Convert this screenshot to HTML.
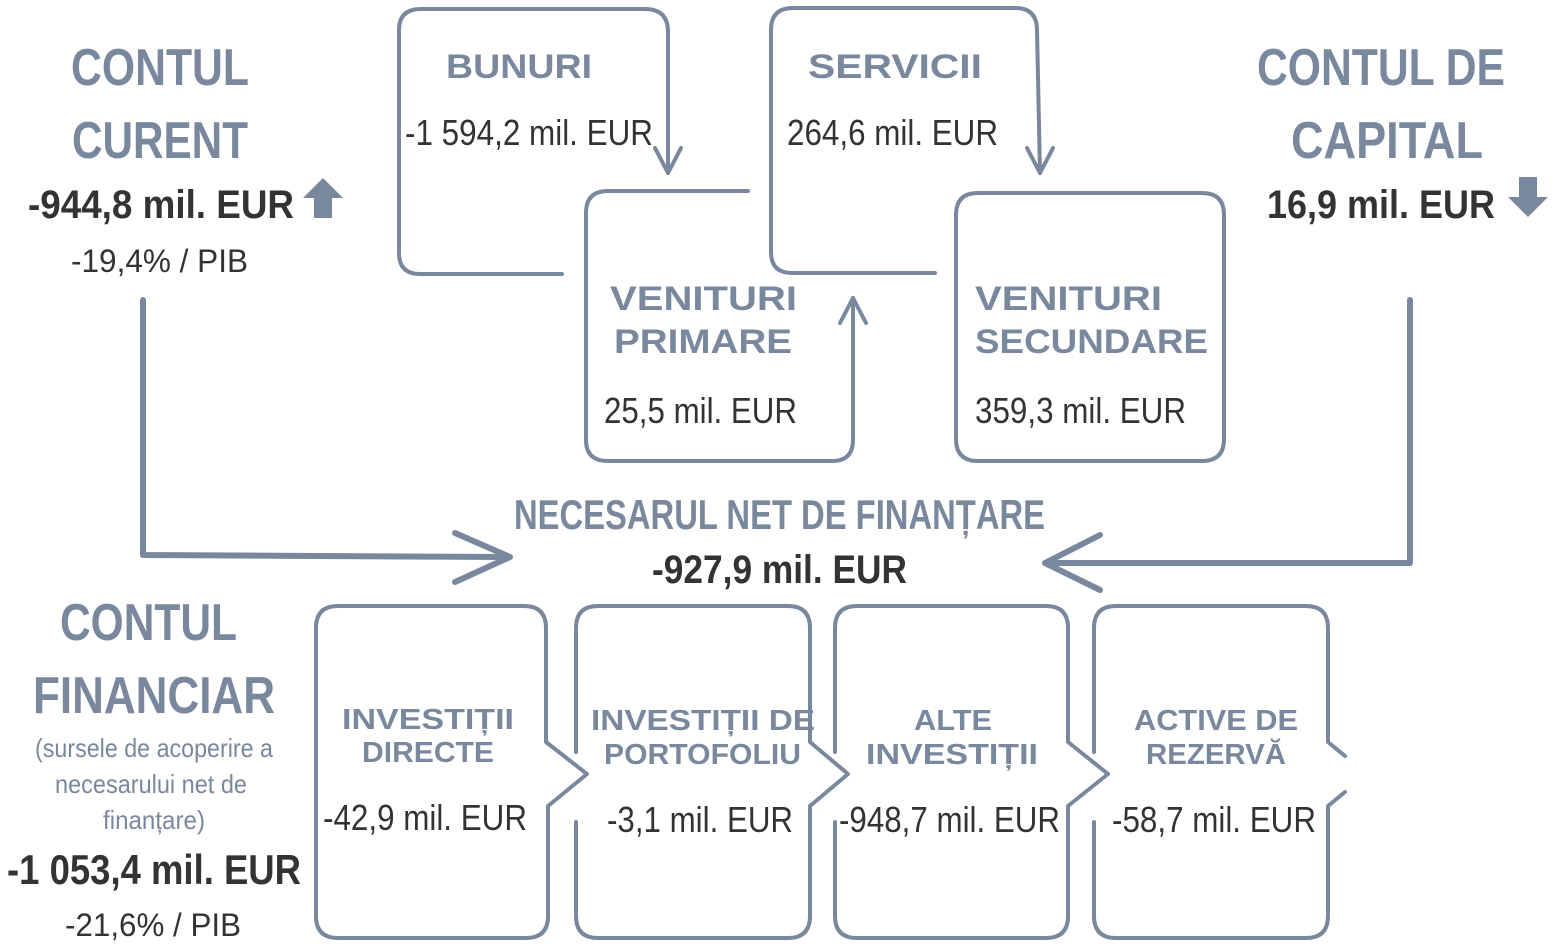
<!DOCTYPE html>
<html><head><meta charset="utf-8"><style>
html,body{margin:0;padding:0;background:#fff;}
svg{display:block;}
text{font-family:"Liberation Sans",sans-serif;}
.h{fill:#7a889e;font-weight:bold;}
.v{fill:#333;}
.b{fill:#333;font-weight:bold;}
.s{fill:#7a889e;}
</style></head><body>
<svg width="1554" height="946" viewBox="0 0 1554 946" xmlns="http://www.w3.org/2000/svg">
<g fill="none" stroke="#7a889e" stroke-width="4" stroke-linecap="round" stroke-linejoin="round">
<path d="M562,274 L420,274 Q399,274 399,253 L399,30 Q399,9 421,9 L645,9 Q668,9 668,32 L668,173"/>
<path d="M655,148 L668,173 L681,148"/>
<path d="M748,191 L608,191 Q586,191 586,213 L586,440 Q586,461 608,461 L832,461 Q853,461 853,440 L853,298"/>
<path d="M840,323 L853,298 L866,323"/>
<path d="M935,273 L792,273 Q771,273 771,252 L771,30 Q771,8 793,8 L1015,8 Q1037,8 1037,30 L1040,173"/>
<path d="M1027,148 L1040,173 L1053,148"/>
<path d="M978,193 L1202,193 Q1224,193 1224,215 L1224,439 Q1224,461 1202,461 L978,461 Q956,461 956,439 L956,215 Q956,193 978,193 Z"/>
<path d="M546,742 L587,774 L548,806 L548,916 Q548,938 526,938 L338,938 Q316,938 316,916 L316,628 Q316,606 338,606 L524,606 Q546,606 546,628 Z"/>
<path d="M576,752 L576,628 Q576,606 598,606 L788,606 Q810,606 810,628 L810,742 L848,774 L810,806 L810,916 Q810,938 788,938 L598,938 Q576,938 576,916 L576,822"/>
<path d="M835,752 L835,628 Q835,606 857,606 L1046,606 Q1068,606 1068,628 L1068,742 L1108,774 L1068,806 L1068,916 Q1068,938 1046,938 L857,938 Q835,938 835,916 L835,822"/>
<path d="M1094,752 L1094,628 Q1094,606 1116,606 L1306,606 Q1328,606 1328,628 L1328,742 L1345,756"/>
<path d="M1345,792 L1328,806 L1328,916 Q1328,938 1306,938 L1116,938 Q1094,938 1094,916 L1094,822"/>
</g>
<g fill="none" stroke="#7a889e" stroke-width="6" stroke-linecap="round" stroke-linejoin="round">
<path d="M143,300 L143,555 L505,557"/>
<path d="M455,533 L510,557 L455,582"/>
<path d="M1410,300 L1410,563 L1050,563"/>
<path d="M1100,535 L1045,563 L1100,590"/>
</g>
<path d="M323,178 L343,198 L332,198 L332,218 L314,218 L314,198 L303,198 Z" fill="#7a889e"/>
<path d="M1528,217 L1508,197 L1519,197 L1519,177 L1537,177 L1537,197 L1548,197 Z" fill="#7a889e"/>

<text class="h" x="71" y="85" font-size="52" textLength="178" lengthAdjust="spacingAndGlyphs">CONTUL</text>
<text class="h" x="72" y="158" font-size="52" textLength="176" lengthAdjust="spacingAndGlyphs">CURENT</text>
<text class="b" x="28" y="218" font-size="40" textLength="266" lengthAdjust="spacingAndGlyphs">-944,8 mil. EUR</text>
<text class="v" x="71" y="272" font-size="32" textLength="177" lengthAdjust="spacingAndGlyphs">-19,4% / PIB</text>
<text class="h" x="1257" y="85" font-size="52" textLength="248" lengthAdjust="spacingAndGlyphs">CONTUL DE</text>
<text class="h" x="1291" y="158" font-size="52" textLength="192" lengthAdjust="spacingAndGlyphs">CAPITAL</text>
<text class="b" x="1267" y="218" font-size="40" textLength="228" lengthAdjust="spacingAndGlyphs">16,9 mil. EUR</text>
<text class="h" x="446" y="78" font-size="34" textLength="146" lengthAdjust="spacingAndGlyphs">BUNURI</text>
<text class="v" x="405" y="145" font-size="36" textLength="248" lengthAdjust="spacingAndGlyphs">-1 594,2 mil. EUR</text>
<text class="h" x="808" y="78" font-size="34" textLength="174" lengthAdjust="spacingAndGlyphs">SERVICII</text>
<text class="v" x="787" y="145" font-size="36" textLength="211" lengthAdjust="spacingAndGlyphs">264,6 mil. EUR</text>
<text class="h" x="610" y="310" font-size="34" textLength="187" lengthAdjust="spacingAndGlyphs">VENITURI</text>
<text class="h" x="614" y="353" font-size="34" textLength="178" lengthAdjust="spacingAndGlyphs">PRIMARE</text>
<text class="v" x="604" y="423" font-size="36" textLength="193" lengthAdjust="spacingAndGlyphs">25,5 mil. EUR</text>
<text class="h" x="975" y="310" font-size="34" textLength="187" lengthAdjust="spacingAndGlyphs">VENITURI</text>
<text class="h" x="975" y="353" font-size="34" textLength="233" lengthAdjust="spacingAndGlyphs">SECUNDARE</text>
<text class="v" x="975" y="423" font-size="36" textLength="211" lengthAdjust="spacingAndGlyphs">359,3 mil. EUR</text>
<text class="h" x="514" y="529" font-size="42" textLength="531" lengthAdjust="spacingAndGlyphs">NECESARUL NET DE FINANȚARE</text>
<text class="b" x="652" y="583" font-size="40" textLength="255" lengthAdjust="spacingAndGlyphs">-927,9 mil. EUR</text>
<text class="h" x="60" y="640" font-size="52" textLength="177" lengthAdjust="spacingAndGlyphs">CONTUL</text>
<text class="h" x="33" y="713" font-size="52" textLength="242" lengthAdjust="spacingAndGlyphs">FINANCIAR</text>
<text class="s" x="35" y="757" font-size="26" textLength="238" lengthAdjust="spacingAndGlyphs">(sursele de acoperire a</text>
<text class="s" x="55" y="793" font-size="26" textLength="192" lengthAdjust="spacingAndGlyphs">necesarului net de</text>
<text class="s" x="103" y="829" font-size="26" textLength="102" lengthAdjust="spacingAndGlyphs">finanțare)</text>
<text class="b" x="7" y="884" font-size="42" textLength="294" lengthAdjust="spacingAndGlyphs">-1 053,4 mil. EUR</text>
<text class="v" x="65" y="936" font-size="32" textLength="176" lengthAdjust="spacingAndGlyphs">-21,6% / PIB</text>
<text class="h" x="342" y="729" font-size="29" textLength="172" lengthAdjust="spacingAndGlyphs">INVESTIȚII</text>
<text class="h" x="362" y="762" font-size="29" textLength="132" lengthAdjust="spacingAndGlyphs">DIRECTE</text>
<text class="v" x="323" y="830" font-size="36" textLength="204" lengthAdjust="spacingAndGlyphs">-42,9 mil. EUR</text>
<text class="h" x="591" y="730" font-size="29" textLength="224" lengthAdjust="spacingAndGlyphs">INVESTIȚII DE</text>
<text class="h" x="604" y="764" font-size="29" textLength="197" lengthAdjust="spacingAndGlyphs">PORTOFOLIU</text>
<text class="v" x="607" y="832" font-size="36" textLength="186" lengthAdjust="spacingAndGlyphs">-3,1 mil. EUR</text>
<text class="h" x="914" y="730" font-size="29" textLength="78" lengthAdjust="spacingAndGlyphs">ALTE</text>
<text class="h" x="866" y="764" font-size="29" textLength="172" lengthAdjust="spacingAndGlyphs">INVESTIȚII</text>
<text class="v" x="839" y="832" font-size="36" textLength="221" lengthAdjust="spacingAndGlyphs">-948,7 mil. EUR</text>
<text class="h" x="1134" y="730" font-size="29" textLength="164" lengthAdjust="spacingAndGlyphs">ACTIVE DE</text>
<text class="h" x="1146" y="764" font-size="29" textLength="140" lengthAdjust="spacingAndGlyphs">REZERVĂ</text>
<text class="v" x="1112" y="832" font-size="36" textLength="204" lengthAdjust="spacingAndGlyphs">-58,7 mil. EUR</text>
</svg>
</body></html>
